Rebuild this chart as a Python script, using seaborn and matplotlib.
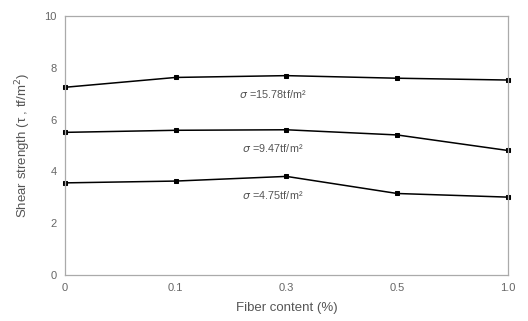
import matplotlib
matplotlib.use("Agg")
import matplotlib.pyplot as plt
import seaborn as sns
import pandas as pd

fiber = ["0", "0.1", "0.3", "0.5", "1.0"]
s_1578 = [7.25, 7.63, 7.70, 7.60, 7.53]
s_947 = [5.51, 5.59, 5.61, 5.41, 4.81]
s_475 = [3.56, 3.63, 3.81, 3.15, 3.01]
labels = ["=15.78tf/m²", "=9.47tf/m²", "=4.75tf/m²"]

rows = []
for lab, vals in zip(labels, [s_1578, s_947, s_475]):
    for fc, v in zip(fiber, vals):
        rows.append({"fiber": fc, "tau": v, "stress": lab})
df = pd.DataFrame(rows)

sns.set_style("white")
plt.rcParams["font.family"] = ["Liberation Sans", "DejaVu Sans"]

fig = plt.figure(figsize=(5.28, 3.21), dpi=100)
ax = fig.add_axes([0.123, 0.143, 0.839, 0.807])

sns.lineplot(data=df, x="fiber", y="tau", units="stress", estimator=None,
             color="black", linewidth=1.1, marker="s", markersize=3.3,
             markeredgecolor="black", ax=ax, legend=False)
for ln in ax.lines:
    ln.set_clip_on(False)

# labels under each curve
for lab, vals in zip(labels, [s_1578, s_947, s_475]):
    ax.text(1.88, vals[2] - 0.72, "$\\sigma\\ $" + lab, ha="center", va="center",
            fontsize=7.8, color="#555555")

ax.set_xlim(0, 4)
ax.set_ylim(0, 10)
ax.set_yticks([0, 2, 4, 6, 8, 10])
ax.tick_params(colors="#666666", labelsize=8, length=0, pad=6)
for sp in ax.spines.values():
    sp.set_color("#aaaaaa")
    sp.set_linewidth(0.9)

ax.set_xlabel("Fiber content (%)", fontsize=9.5, color="#555555", labelpad=6)
ax.set_ylabel("Shear strength (τ , tf/m$^2$)", fontsize=9.5, color="#555555", labelpad=8)

fig.savefig("out.png", dpi=100)
